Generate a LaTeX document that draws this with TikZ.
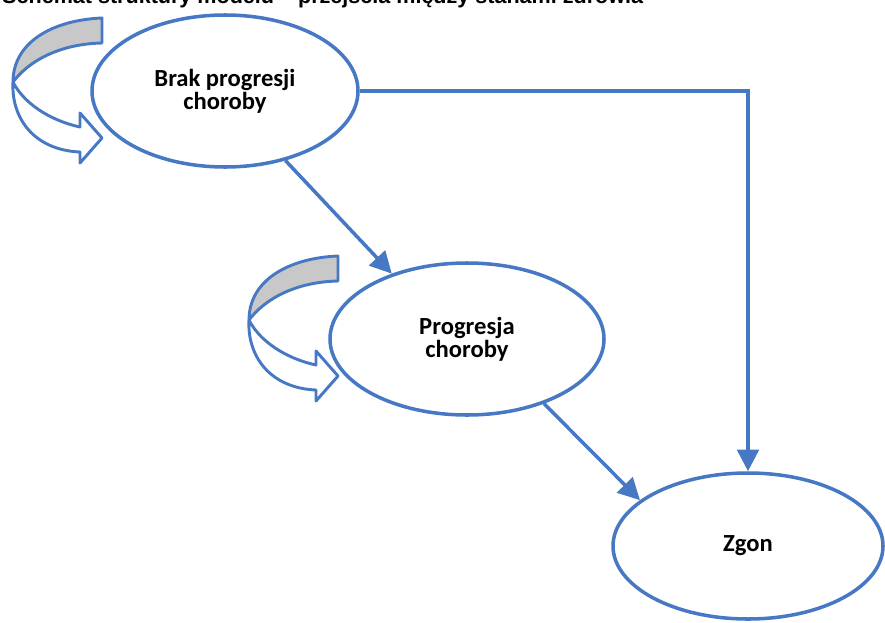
\documentclass[tikz,border=0pt]{standalone}
\usepackage{fontspec}
\setmainfont{Carlito}
\newfontfamily\titlefont{Liberation Sans}
\usetikzlibrary{shapes.geometric,arrows.meta,positioning}
\definecolor{lineblue}{RGB}{70,120,196}
\definecolor{bandgray}{RGB}{200,200,200}

\begin{document}
\begin{tikzpicture}[x=0.3mm,y=-0.3mm,
  state/.style={ellipse,draw=lineblue,line width=3pt,inner sep=0pt,align=center,
    font=\bfseries\fontsize{21}{19.5}\selectfont},
  flow/.style={draw=lineblue,line width=3pt,-{Triangle[length=6.5mm,width=6.5mm]}},
  loopband/.style={draw=lineblue,line width=2.5pt,line join=round}]
	\useasboundingbox (0,0) rectangle (885,622);
	\clip (0,0) rectangle (885,622);

	% title, cut at the top edge
	\node (title) [anchor=base west,inner sep=0pt,
	  font=\titlefont\bfseries\fontsize{18.4}{18}\selectfont] at (2,4)
	  {Schemat struktury modelu – przejścia między stanami zdrowia};

	\node (brak) [state,minimum width=79.8mm,minimum height=45.6mm] at (225,91) {Brak progresji\\choroby};
	\node (prog) [state,minimum width=82.2mm,minimum height=45.6mm] at (467,339) {Progresja\\choroby};
	\node (zgon) [state,minimum width=81mm,minimum height=43.8mm] at (748,546) {Zgon};

	% self loops
	\foreach \lx/\ly in {13/82, 249/320} {
	  \begin{scope}[shift={(\lx,\ly)}]
	    \filldraw[loopband,fill=bandgray] (89,-64) .. controls (40,-62) and (0,-40) .. (0,0)
	      .. controls (15,-20) and (45,-38) .. (89,-39) -- cycle;
	    \filldraw[loopband,fill=white] (0,0) .. controls (-2,35) and (20,68) .. (67,70)
	      -- (67,81) -- (89,56) -- (67,31) -- (67,45)
	      .. controls (35,38) and (10,20) .. (0,0) -- cycle;
	  \end{scope}
	}

	\draw [flow] (brak.east) -| (zgon.north);
	\draw [flow] (brak.-49) -- (prog.139);
	\draw [flow] (prog.-40) -- (zgon.157);
\end{tikzpicture}
\end{document}
